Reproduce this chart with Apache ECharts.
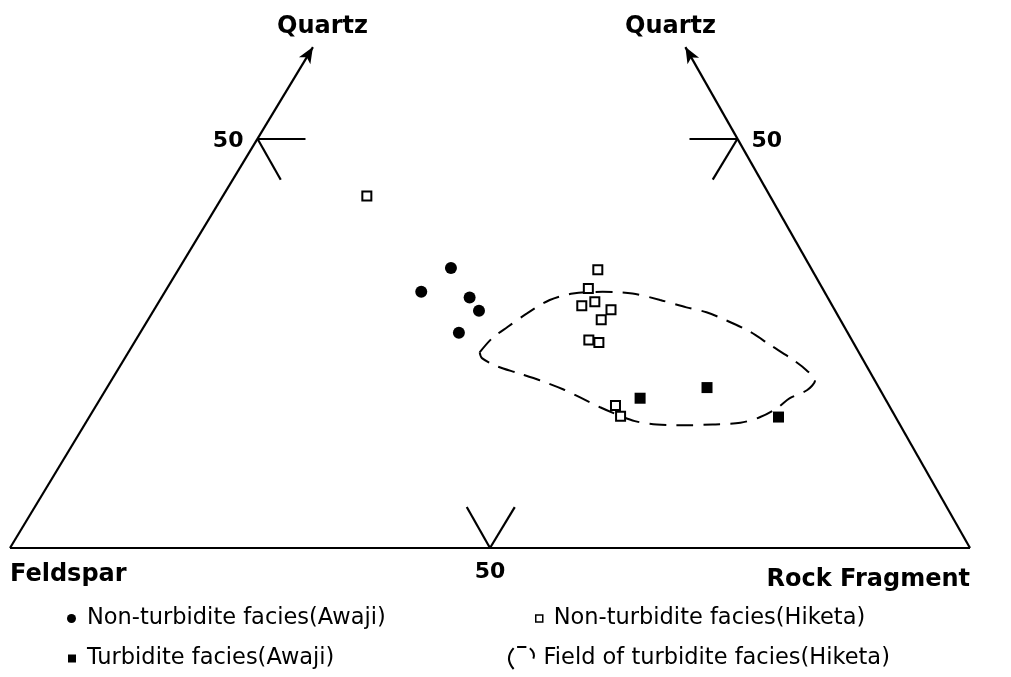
<!DOCTYPE html>
<html><head><meta charset="utf-8">
<script src="https://cdn.jsdelivr.net/npm/echarts@6/dist/echarts.min.js"></script>
<style>html,body{margin:0;padding:0;background:#fff}#c{width:1011px;height:677px}</style>
</head><body><div id="c"></div>
<script>
// Ternary compositions in %: [Quartz, Feldspar, Rock Fragment]
const awajiNonTurbidite = [[34.2,37.5,28.3],[31.3,42.0,26.7],[30.6,37.3,32.1],[29.0,37.1,33.9],[26.3,40.5,33.2]];
const awajiTurbidite = [[18.3,25.5,56.2],[19.6,17.9,62.5],[16.0,12.2,71.8]];
const hiketaNonTurbidite = [[43.0,42.0,15.0],[34.0,22.3,43.7],[31.7,24.4,43.9],[29.6,26.1,44.3],[30.1,24.5,45.4],[29.1,23.3,47.6],[27.9,24.9,47.2],[25.4,27.4,47.2],[25.1,26.5,48.4],[17.4,28.5,54.1],[16.1,28.6,55.3]];
// Outline of the field of turbidite facies (Hiketa): Quartz % and Rock Fragment %
const fieldQ = [23.9,25.6,27.0,28.7,30.3,31.1,31.3,31.1,30.3,29.4,28.8,27.8,26.4,24.8,23.0,21.7,20.5,19.3,18.3,17.1,16.0,15.3,15.1,15.0,15.1,15.5,16.4,17.2,18.4,19.4,20.5,21.4,22.2,23.2];
const fieldR = [36.6,37.0,37.9,39.1,40.6,42.6,45.6,48.8,52.1,55.3,57.7,60.3,63.5,66.4,69.7,71.8,73.3,73.1,71.8,71.1,69.9,68.2,65.4,62.8,59.6,57.1,54.6,52.6,49.9,47.6,44.6,41.8,39.3,37.2];
const vertexNames = ['Quartz','Feldspar','Rock Fragment'];
const tickValues = [50];
const seriesNames = ['Non-turbidite facies(Awaji)','Turbidite facies(Awaji)','Non-turbidite facies(Hiketa)','Field of turbidite facies(Hiketa)'];

const APEX = 0.5156;   // apex position along the base (drawing is slightly skewed)
const QARROW = 61.2;   // where the Quartz arrows end
const TICK = 5;        // tick length in %
function tern(q, f, r) { return [r + APEX * q, q]; }

const fieldData = fieldQ.map((q, i) => tern(q, 100 - q - fieldR[i], fieldR[i]));
fieldData.push(fieldData[0]);

const seg = (a, b) => [{coord: tern(...a)}, {coord: tern(...b)}];
const frameLines = [seg([0,100,0],[0,0,100])];
tickValues.forEach(t => {
  frameLines.push(seg([t,100-t,0],[t,100-t-TICK,TICK]));
  frameLines.push(seg([t,100-t,0],[t-TICK,100-t,TICK]));
  frameLines.push(seg([t,0,100-t],[t,TICK,100-t-TICK]));
  frameLines.push(seg([t,0,100-t],[t-TICK,TICK,100-t]));
  frameLines.push(seg([0,t,100-t],[TICK,t,100-t-TICK]));
  frameLines.push(seg([0,100-t,t],[TICK,100-t-TICK,t]));
});
const arrowLines = [
  [{coord: tern(0,100,0)}, {coord: tern(QARROW,100-QARROW,0)}],
  [{coord: tern(0,0,100)}, {coord: tern(QARROW,0,100-QARROW)}]
];
const tickLabelData = [];
tickValues.forEach(t => {
  tickLabelData.push({name: String(t), value: tern(t,100-t,0), label:{position:'left', distance:14, offset:[0,3]}});
  tickLabelData.push({name: String(t), value: tern(t,0,100-t), label:{position:'right', distance:14, offset:[0,3]}});
  tickLabelData.push({name: String(t), value: tern(0,t,100-t), label:{position:'bottom', distance:13}});
});

const FONT = 'DejaVu Sans';
const chart = echarts.init(document.getElementById('c'));
const legendText = {fontFamily: FONT, fontSize: 22.5, color: '#000'};
const vfont = 'bold 24px "DejaVu Sans"';
chart.setOption({
  animation: false,
  backgroundColor: '#fff',
  grid: {left: 10, right: 41, top: 16, bottom: 129},
  xAxis: {type: 'value', min: 0, max: 100, show: false},
  yAxis: {type: 'value', min: 0, max: 65, show: false},
  legend: [
    {data: [{name: seriesNames[0], icon: 'circle'}], left: 67, top: 607, padding: 0, itemWidth: 9, itemHeight: 9, selectedMode: false, textStyle: Object.assign({padding:[0,0,0,6]}, legendText)},
    {data: [{name: seriesNames[1], icon: 'rect'}], left: 68, top: 647, padding: 0, itemWidth: 8, itemHeight: 8, selectedMode: false, textStyle: Object.assign({padding:[0,0,0,6]}, legendText)},
    {data: [{name: seriesNames[2], icon: 'rect', itemStyle:{color:'#fff', borderColor:'#000', borderWidth:1.5}}], left: 535, top: 607, padding: 0, itemWidth: 7, itemHeight: 7, selectedMode: false, textStyle: Object.assign({padding:[0,0,0,6]}, legendText)},
    {data: [{name: seriesNames[3], icon: 'path://M7,2 Q-1,11 7,20 M10,1 L18,1 M21,2 Q26,6 24,11', itemStyle:{color:'transparent', borderColor:'#000', borderWidth:2}}], left: 508, top: 646, padding: 0, itemWidth: 26, itemHeight: 22, selectedMode: false, textStyle: Object.assign({padding:[0,0,0,4]}, legendText)}
  ],
  graphic: [
    {type:'text', left: 277, top: 15, style:{text: vertexNames[0], font: vfont, fill:'#000'}},
    {type:'text', left: 625, top: 15, style:{text: vertexNames[0], font: vfont, fill:'#000'}},
    {type:'text', left: 10, top: 563, style:{text: vertexNames[1], font: vfont, fill:'#000'}},
    {type:'text', right: 41, top: 568, style:{text: vertexNames[2], font: vfont, fill:'#000'}}
  ],
  series: [
    {name: seriesNames[3], type: 'line', data: fieldData, smooth: 0.3, symbol: 'none', z: 2,
     lineStyle: {color:'#000', width: 2, type: [17, 10]}, itemStyle:{color:'#000'}},
    {name: seriesNames[0], type: 'scatter', symbol: 'circle', symbolSize: 12, z: 5,
     itemStyle: {color: '#000', opacity: 1}, data: awajiNonTurbidite.map(d => tern(...d))},
    {name: seriesNames[1], type: 'scatter', symbol: 'rect', symbolSize: 11, z: 5,
     itemStyle: {color: '#000', opacity: 1}, data: awajiTurbidite.map(d => tern(...d))},
    {name: seriesNames[2], type: 'scatter', symbol: 'rect', symbolSize: 9, z: 5,
     itemStyle: {color: '#fff', borderColor: '#000', borderWidth: 2, opacity: 1}, data: hiketaNonTurbidite.map(d => tern(...d))},
    {name: 'frame', type: 'scatter', data: [], silent: true,
     markLine: {silent: true, symbol: ['none','none'], label:{show:false}, animation:false,
       lineStyle: {color:'#000', width: 2.2, type:'solid', opacity: 1}, data: frameLines}},
    {name: 'arrows', type: 'scatter', data: [], silent: true,
     markLine: {silent: true, symbol: ['none','arrow'], symbolSize: [10, 16], label:{show:false}, animation:false,
       lineStyle: {color:'#000', width: 2.2, type:'solid', opacity: 1}, data: arrowLines}},
    {name: 'tickLabels', type: 'scatter', symbolSize: 0, silent: true, data: tickLabelData,
     itemStyle: {opacity: 1},
     label: {show: true, formatter: '{b}', fontFamily: FONT, fontWeight: 'bold', fontSize: 22, color: '#000', opacity: 1}}
  ]
});
</script></body></html>
